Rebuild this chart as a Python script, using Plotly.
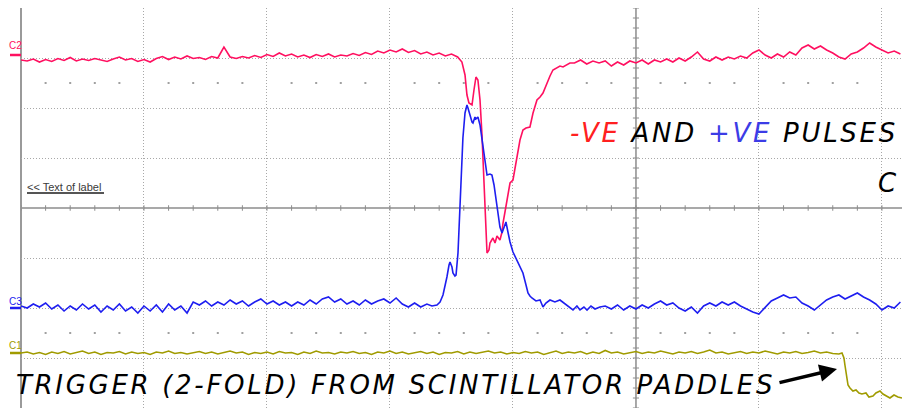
import numpy as np
import plotly.graph_objects as go

# ---------------- data (time in ns, 10 ns/div; amplitude in divisions) ----------------
STEP = 0.5

# C2 (negative pulse, pink)
c2_left_t0 = -50.0
c2_left = [2.96, 2.94, 2.98, 2.92, 2.97, 2.93, 2.99, 2.95, 3.01, 2.94,
           2.98, 2.95, 2.99, 2.96, 2.93, 2.98, 3.02, 2.96, 2.99, 2.93,
           2.97, 2.92, 2.99, 3.03, 2.97, 3.02, 2.98, 3.04, 2.99, 3.01,
           2.97, 3.03, 3.00, 3.22, 3.02, 2.99, 3.03, 3.00, 3.05, 3.01,
           3.07, 3.03, 3.10, 3.04, 3.08, 3.02, 3.06, 3.01, 3.07, 3.03,
           3.08, 3.02, 3.06, 3.04, 3.09, 3.05, 3.11, 3.07, 3.14, 3.10,
           3.16, 3.12, 3.18, 3.11, 3.15, 3.08, 3.12, 3.06, 3.10, 3.04,
           3.08, 3.02]
c2_pulse_t = [-14.15, -13.90, -13.74, -13.58, -13.33, -13.17, -13.01, -12.85, -12.68, -12.52,
              -12.44, -12.36, -12.28, -12.20, -12.11, -11.95, -11.87, -11.63, -11.46, -11.30,
              -11.06, -10.89, -10.81, -10.65, -10.49, -10.33, -10.24, -10.00, -9.84, -9.67,
              -9.51, -9.43, -9.19, -8.94, -8.62, -8.37, -8.05, -7.80, -7.56, -7.24,
              -6.99, -6.75, -6.42, -6.18, -5.93, -5.61, -5.37]
c2_pulse_v = [2.92, 2.66, 2.26, 2.10, 2.06, 2.36, 2.62, 2.56, 2.16, 1.46,
              1.02, 0.36, -0.14, -0.64, -0.90, -0.84, -0.70, -0.60, -0.70, -0.56,
              -0.64, -0.48, -0.30, -0.08, 0.16, 0.40, 0.50, 0.56, 0.80, 1.02,
              1.26, 1.36, 1.56, 1.60, 1.62, 1.90, 2.16, 2.22, 2.30, 2.50,
              2.64, 2.76, 2.80, 2.84, 2.82, 2.86, 2.90]
c2_right_t0 = -5.0
c2_right = [2.90, 2.96, 2.88, 2.94, 2.90, 2.94, 2.84, 2.92, 2.86, 2.94,
            2.90, 2.96, 2.88, 2.96, 2.92, 2.98, 2.92, 3.00, 2.94, 3.02,
            3.12, 2.98, 2.94, 3.02, 2.96, 3.02, 2.98, 3.04, 3.00, 3.10,
            3.16, 3.06, 3.00, 3.08, 3.02, 3.12, 3.06, 3.20, 3.26, 3.18,
            3.24, 3.16, 3.10, 3.02, 2.98, 3.08, 3.12, 3.20, 3.30, 3.22,
            3.16, 3.10, 3.14, 3.08]

# C3 (positive pulse, blue)
c3_left_t0 = -50.0
c3_left = [-1.96, -2.00, -1.92, -1.98, -1.90, -2.02, -1.94, -2.06, -1.96, -2.04,
           -1.92, -2.02, -1.94, -2.08, -1.96, -2.04, -1.92, -2.06, -1.98, -2.10,
           -1.96, -2.06, -1.94, -2.08, -1.92, -2.04, -1.96, -2.10, -1.88, -1.94,
           -1.86, -1.96, -1.88, -1.94, -1.84, -1.92, -1.86, -1.96, -1.88, -1.82,
           -1.92, -1.86, -1.94, -1.88, -1.96, -1.88, -1.94, -1.84, -1.92, -1.82,
           -1.78, -1.88, -1.82, -1.92, -1.86, -1.94, -1.84, -1.92, -1.86, -1.82,
           -1.90, -1.80, -1.92, -1.98, -1.90, -1.98, -1.92]
c3_pulse_t = [-16.59, -16.18, -15.93, -15.69, -15.53, -15.37, -15.20, -15.12, -14.96, -14.88,
              -14.72, -14.63, -14.47, -14.39, -14.31, -14.23, -14.15, -14.07, -13.90, -13.82,
              -13.74, -13.66, -13.50, -13.33, -13.25, -13.09, -13.01, -12.85, -12.68, -12.52,
              -12.44, -12.28, -12.11, -11.87, -11.71, -11.54, -11.46, -11.30, -11.22, -11.06,
              -10.89, -10.73, -10.57, -10.41, -10.24, -10.00, -9.67, -9.43, -9.19, -8.94,
              -8.78, -8.62, -8.46, -8.13, -7.80, -7.56, -7.32, -6.99, -6.59, -6.18,
              -5.85, -5.61, -5.37, -5.12, -4.80, -4.55, -4.23, -3.98, -3.66, -3.33,
              -2.93]
c3_pulse_v = [-1.96, -1.94, -1.88, -1.74, -1.58, -1.38, -1.14, -1.08, -1.18, -1.30,
              -1.36, -1.34, -0.90, -0.44, 0.10, 0.56, 0.96, 1.40, 1.90, 2.02,
              2.06, 2.00, 1.86, 1.72, 1.70, 1.82, 1.78, 1.82, 1.66, 1.36,
              1.22, 0.90, 0.66, 0.68, 0.66, 0.46, 0.30, 0.02, -0.18, -0.38,
              -0.50, -0.40, -0.28, -0.48, -0.68, -0.88, -1.04, -1.18, -1.30, -1.54,
              -1.70, -1.76, -1.80, -1.86, -1.84, -1.98, -1.90, -1.84, -1.88, -1.84,
              -1.90, -1.94, -2.00, -2.04, -1.96, -2.04, -1.98, -2.04, -1.96, -2.02,
              -1.98]
c3_right_t0 = -2.5
c3_right = [-1.96, -2.02, -1.94, -2.04, -1.96, -2.02, -1.94, -2.00, -1.92, -1.86,
            -1.94, -1.90, -2.00, -2.06, -1.98, -2.10, -1.96, -1.90, -1.96, -1.88,
            -1.94, -1.88, -1.96, -2.02, -2.08, -2.12, -1.98, -1.86, -1.80, -1.74,
            -1.80, -1.78, -1.90, -1.96, -2.04, -1.94, -1.84, -1.78, -1.74, -1.82,
            -1.76, -1.70, -1.78, -1.84, -1.92, -2.04, -1.96, -2.00, -1.88]

# C1 (trigger, olive)
c1_left_t0 = -50.0
c1_left = [-2.90, -2.88, -2.92, -2.89, -2.93, -2.88, -2.91, -2.87, -2.92, -2.89,
           -2.86, -2.91, -2.88, -2.93, -2.89, -2.90, -2.87, -2.92, -2.88, -2.91,
           -2.89, -2.93, -2.88, -2.90, -2.86, -2.91, -2.89, -2.92, -2.90, -2.87,
           -2.91, -2.88, -2.92, -2.89, -2.86, -2.90, -2.88, -2.93, -2.89, -2.91,
           -2.88, -2.92, -2.87, -2.90, -2.89, -2.93, -2.88, -2.91, -2.86, -2.90,
           -2.89, -2.92, -2.88, -2.90, -2.87, -2.91, -2.89, -2.93, -2.88, -2.90,
           -2.86, -2.91, -2.88, -2.92, -2.89, -2.87, -2.91, -2.88, -2.93, -2.89,
           -2.90, -2.87, -2.92, -2.88, -2.91, -2.89, -2.86, -2.90, -2.88, -2.92,
           -2.89, -2.91, -2.87, -2.90, -2.88, -2.93, -2.89, -2.86, -2.91, -2.88,
           -2.90, -2.87, -2.92, -2.88, -2.91, -2.85, -2.90, -2.88, -2.92, -2.89,
           -2.87, -2.91, -2.88, -2.90, -2.86, -2.89, -2.92, -2.88, -2.90, -2.87,
           -2.91, -2.88, -2.84, -2.90, -2.88, -2.92, -2.89, -2.87, -2.91, -2.88,
           -2.90, -2.86, -2.89, -2.92, -2.88, -2.90, -2.87, -2.91, -2.89, -2.86,
           -2.90, -2.88, -2.91]
c1_edge_t = [16.50, 16.75, 16.91, 16.99, 17.07, 17.15, 17.24, 17.40, 17.64, 17.89,
             18.13, 18.37, 18.70, 18.94, 19.27, 19.51, 19.84, 20.08, 20.33, 20.65,
             20.98, 21.30, 21.63]
c1_edge_v = [-2.92, -2.90, -3.00, -3.14, -3.30, -3.44, -3.54, -3.60, -3.66, -3.64,
             -3.70, -3.72, -3.70, -3.78, -3.76, -3.70, -3.66, -3.72, -3.76, -3.80,
             -3.74, -3.78, -3.80]

channel_labels = ["C2", "C3", "C1"]
channel_offsets = [3.06, -2.0, -2.9]
channel_colors = ["#FF1060", "#1E1EF0", "#A09B00"]

# ---------------- build ----------------
def seg(t0, vals):
    return list(t0 + STEP * np.arange(len(vals)))

c2_t = seg(c2_left_t0, c2_left) + c2_pulse_t + seg(c2_right_t0, c2_right)
c2_v = c2_left + c2_pulse_v + c2_right
c3_t = seg(c3_left_t0, c3_left) + c3_pulse_t + seg(c3_right_t0, c3_right)
c3_v = c3_left + c3_pulse_v + c3_right
c1_t = seg(c1_left_t0, c1_left) + c1_edge_t
c1_v = c1_left + c1_edge_v

XMIN, XMAX = -50.0, 21.63
W, H = 902, 408
ML, MT = 21, 8
PW, PH = W - ML, H - MT

def pxx(p):
    return (p - ML) / PW

def pxy(p):
    return (H - p) / PH

fig = go.Figure()

# graticule tick marks on the centre lines
tx, ty = [], []
for k in range(-25, 11):
    x = 2.0 * k
    tx += [x, x, None]
    ty += [-0.055, 0.055, None]
for k in range(-20, 21):
    y = 0.2 * k
    tx += [-0.25, 0.25, None]
    ty += [y, y, None]
fig.add_trace(go.Scatter(x=tx, y=ty, mode="lines", line=dict(color="#8C8C8C", width=1),
                         hoverinfo="skip", showlegend=False))
# minor dots
dx, dy = [], []
for k in range(-24, 11):
    if k % 5 == 0:
        continue
    for yy in (2.5, -2.5):
        dx.append(2.0 * k)
        dy.append(yy)
fig.add_trace(go.Scatter(x=dx, y=dy, mode="markers",
                         marker=dict(symbol="square", size=2, color="#A0A0A0", line=dict(width=0)),
                         hoverinfo="skip", showlegend=False))

for t, v, c in [(c2_t, c2_v, channel_colors[0]), (c3_t, c3_v, channel_colors[1]),
                (c1_t, c1_v, channel_colors[2])]:
    fig.add_trace(go.Scatter(x=t, y=v, mode="lines", line=dict(color=c, width=1.6),
                             hoverinfo="skip", showlegend=False))

shapes = [
    dict(type="line", xref="x", yref="paper", x0=0, x1=0, y0=0, y1=1,
         line=dict(color="#8C8C8C", width=1.5), layer="below"),
    dict(type="line", xref="paper", yref="y", x0=0, x1=1, y0=0, y1=0,
         line=dict(color="#8C8C8C", width=1.5), layer="below"),
    dict(type="line", xref="paper", yref="paper", x0=0, x1=0, y0=0, y1=1,
         line=dict(color="#9A9A9A", width=2), layer="below"),
    # label underline
    dict(type="line", xref="paper", yref="paper", x0=pxx(27), x1=pxx(104), y0=pxy(193), y1=pxy(193),
         line=dict(color="#555555", width=2)),
]
annotations = []
label_y = [46, 301, 345]
for lab, off, col, ly in zip(channel_labels, channel_offsets, channel_colors, label_y):
    shapes.append(dict(type="line", xref="paper", yref="y", x0=pxx(10), x1=pxx(21), y0=off, y1=off,
                       line=dict(color=col, width=2.5)))
    annotations.append(dict(xref="paper", yref="paper", x=pxx(7), y=pxy(ly), text=lab, showarrow=False,
                            xanchor="left", yanchor="middle",
                            font=dict(family="Liberation Sans", size=10, color=col)))

annotations.append(dict(xref="paper", yref="paper", x=pxx(25), y=pxy(187), text="<< Text of label",
                        showarrow=False, xanchor="left", yanchor="middle",
                        font=dict(family="Liberation Sans", size=11, color="#3A3A3A")))

LS = "letter-spacing:2.7px"
hand = dict(family="DejaVu Sans", size=26, color="#000000", style="italic")
top_text = (f'<span style="{LS};color:#FF2020">-VE</span>'
            f'<span style="{LS}"> AND </span>'
            f'<span style="{LS};color:#3C3CE6">+VE</span>'
            f'<span style="{LS}"> PULSES</span>')
annotations.append(dict(xref="paper", yref="paper", x=pxx(568), y=pxy(133), text=top_text,
                        showarrow=False, xanchor="left", yanchor="middle", font=hand))
annotations.append(dict(xref="paper", yref="paper", x=pxx(899), y=pxy(183), text="C",
                        showarrow=False, xanchor="right", yanchor="middle", font=hand))
annotations.append(dict(xref="paper", yref="paper", x=pxx(14), y=pxy(385),
                        text=f'<span style="{LS}">TRIGGER (2-FOLD) FROM SCINTILLATOR PADDLES</span>',
                        showarrow=False, xanchor="left", yanchor="middle", font=hand))
# arrow pointing to the trigger edge
annotations.append(dict(xref="paper", yref="paper", x=pxx(837), y=pxy(369), text="",
                        showarrow=True, ax=-59, ay=14, axref="pixel", ayref="pixel",
                        arrowhead=2, arrowsize=1, arrowwidth=3.5, arrowcolor="#000000"))

fig.update_layout(
    width=W, height=H,
    margin=dict(l=ML, r=0, t=MT, b=0, pad=0),
    paper_bgcolor="white", plot_bgcolor="white",
    xaxis=dict(range=[XMIN, XMAX], tickvals=[-40, -30, -20, -10, 10, 20], showticklabels=False,
               showgrid=True, gridcolor="#A8A8A8", griddash="1px,2px", gridwidth=1,
               zeroline=False, showline=False, ticks="", fixedrange=True),
    yaxis=dict(range=[-4, 4], tickvals=[-3, -2, -1, 1, 2, 3], showticklabels=False,
               showgrid=True, gridcolor="#A8A8A8", griddash="1px,2px", gridwidth=1,
               zeroline=False, showline=False, ticks="", fixedrange=True),
    shapes=shapes, annotations=annotations, showlegend=False,
)

fig.write_html("out.html")
